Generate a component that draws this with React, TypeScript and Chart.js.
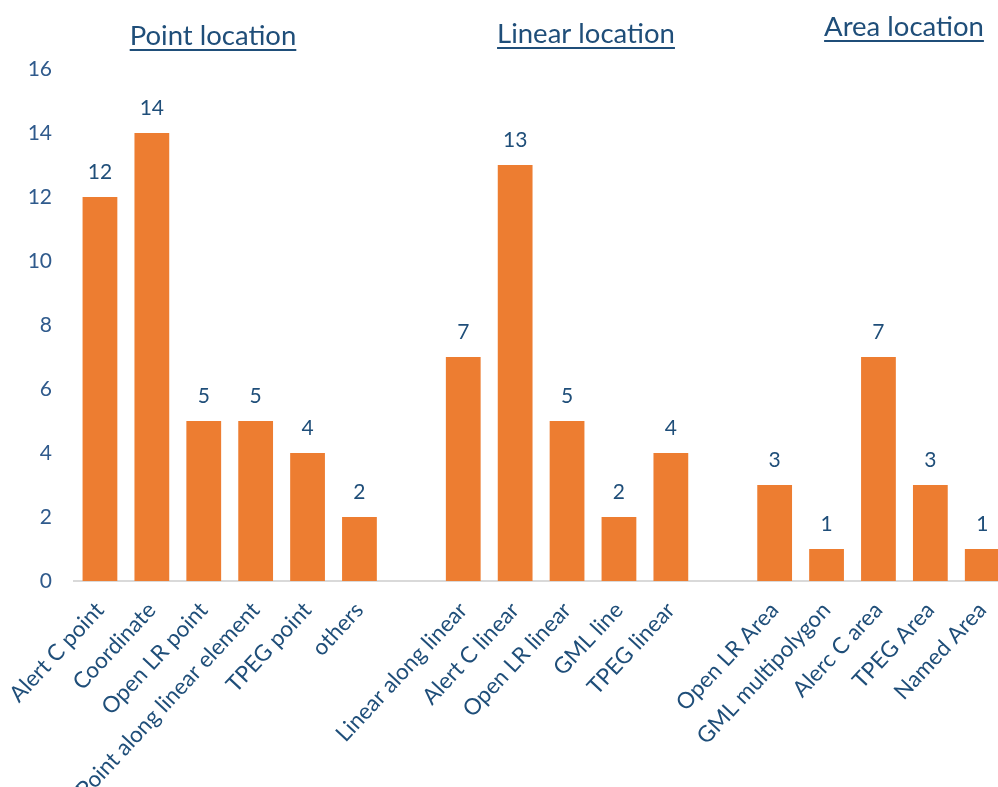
import React, { useEffect, useRef } from "react";
import { Chart, registerables } from "chart.js";

Chart.register(...registerables);

const categories: string[] = [
  "Alert C point", "Coordinate", "Open LR point", "Point along linear element", "TPEG point", "others",
  "",
  "Linear along linear", "Alert C linear", "Open LR linear", "GML line", "TPEG linear",
  "",
  "Open LR Area", "GML multipolygon", "Alerc C area", "TPEG Area", "Named Area",
];

const counts: (number | null)[] = [
  12, 14, 5, 5, 4, 2,
  null,
  7, 13, 5, 2, 4,
  null,
  3, 1, 7, 3, 1,
];

const groupTitles: string[] = ["Point location", "Linear location", "Area location"];

const yTicks: number[] = [0, 2, 4, 6, 8, 10, 12, 14, 16];

const FONT = 'Lato, "Open Sans", sans-serif';
const DARK = "#1F4E79";
const TICK = "#2F5A8C";
const ORANGE = "#ED7D31";

const titlePlugin = {
  id: "groupTitles",
  afterDraw(chart: any) {
    const ctx = chart.ctx;
    const spots = [
      { x: 213, y: 45 },
      { x: 586, y: 43 },
      { x: 904, y: 36 },
    ];
    ctx.save();
    ctx.font = `27.5px ${FONT}`;
    ctx.fillStyle = DARK;
    ctx.strokeStyle = DARK;
    ctx.textAlign = "center";
    ctx.textBaseline = "alphabetic";
    groupTitles.forEach((t, i) => {
      const s = spots[i];
      ctx.fillText(t, s.x, s.y);
      const w = ctx.measureText(t).width;
      ctx.lineWidth = 2;
      ctx.beginPath();
      ctx.moveTo(s.x - w / 2, s.y + 5);
      ctx.lineTo(s.x + w / 2, s.y + 5);
      ctx.stroke();
    });
    ctx.restore();
  },
};

const valueLabelPlugin = {
  id: "valueLabels",
  afterDatasetsDraw(chart: any) {
    const ctx = chart.ctx;
    const meta = chart.getDatasetMeta(0);
    ctx.save();
    ctx.font = `21px ${FONT}`;
    ctx.fillStyle = DARK;
    ctx.textAlign = "center";
    ctx.textBaseline = "alphabetic";
    meta.data.forEach((bar: any, i: number) => {
      const v = counts[i];
      if (v === null || v === undefined) return;
      ctx.fillText(String(v), bar.x, bar.y - 18);
    });
    ctx.restore();
  },
};

export default function App() {
  const ref = useRef<HTMLCanvasElement | null>(null);

  useEffect(() => {
    if (!ref.current) return;
    const chart = new Chart(ref.current, {
      type: "bar",
      data: {
        labels: categories,
        datasets: [
          {
            data: counts as any,
            backgroundColor: ORANGE,
            borderWidth: 0,
            barPercentage: 0.67,
            categoryPercentage: 1,
          },
        ],
      },
      options: {
        responsive: false,
        animation: false,
        layout: { padding: { top: 69, left: 0, right: 0, bottom: 0 } },
        plugins: {
          legend: { display: false },
          tooltip: { enabled: false },
          title: { display: false },
        },
        scales: {
          x: {
            offset: true,
            grid: { display: false },
            border: { display: true, color: "#D9D9D9", width: 2 },
            ticks: {
              autoSkip: false,
              maxRotation: 47,
              minRotation: 47,
              color: DARK,
              font: { family: FONT, size: 22.5 },
              padding: 8,
            },
            afterFit: (s: any) => {
              s.height = 206;
            },
          },
          y: {
            min: 0,
            max: 16,
            grid: { display: false },
            border: { display: false },
            afterBuildTicks: (s: any) => {
              s.ticks = yTicks.map((v) => ({ value: v }));
            },
            ticks: {
              color: TICK,
              font: { family: FONT, size: 21 },
              padding: 14,
            },
            afterFit: (s: any) => {
              s.width = 74;
            },
          },
        },
      },
      plugins: [valueLabelPlugin, titlePlugin],
    });
    return () => chart.destroy();
  }, []);

  return (
    <div
      style={{
        position: "fixed",
        left: 0,
        top: 0,
        width: 998,
        height: 787,
        overflow: "hidden",
        background: "#fff",
      }}
    >
      <canvas ref={ref} width={1010} height={787} style={{ display: "block" }} />
    </div>
  );
}
